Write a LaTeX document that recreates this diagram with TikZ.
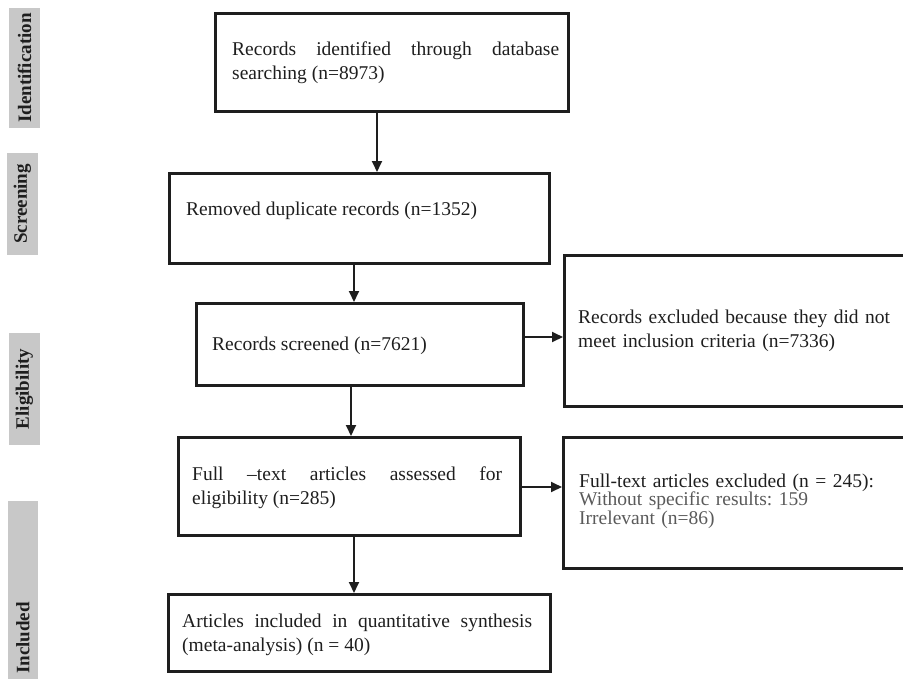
\documentclass[tikz,border=0pt]{standalone}
\usepackage{fontspec}
\setmainfont{Liberation Serif}
\usetikzlibrary{arrows.meta}
\definecolor{ink}{HTML}{1E1E1E}
\definecolor{labgray}{HTML}{C8C8C8}
\definecolor{subgray}{HTML}{5A5A5A}
\frenchspacing
\begin{document}
\begin{tikzpicture}[x=1pt,y=-1pt,
  box/.style={draw=ink, line width=2.8pt, rectangle, inner sep=0pt, anchor=north west},
  txt/.style={inner sep=0pt, text=ink, font=\fontsize{19.5}{24}\selectfont, anchor=base west},
  arr/.style={draw=ink, line width=1.8pt, -{Triangle[length=11pt,width=10pt]}},
  lab/.style={fill=labgray, rotate=90, text=ink, font=\bfseries\fontsize{19}{23}\selectfont, inner sep=0pt}]
\useasboundingbox (0,0) rectangle (903,678);

% side labels
\node[lab, minimum width=120pt, minimum height=31pt] (l1) at (24.5,68) {Identification};
\node[lab, minimum width=102pt, minimum height=31pt] (l2) at (22.5,204) {Screening};
\node[lab, minimum width=112pt, minimum height=31pt] (l3) at (24.5,389) {Eligibility};
\node[lab, minimum width=274pt, minimum height=30pt] (l4) at (23,638) {Included};

% boxes
\node[box, minimum width=353pt, minimum height=98pt] (b1) at (214,12) {};
\node[box, minimum width=380pt, minimum height=90pt] (b2) at (168,172) {};
\node[box, minimum width=327pt, minimum height=82pt] (b3) at (195,302) {};
\node[box, minimum width=342pt, minimum height=98pt] (b4) at (177,436) {};
\node[box, minimum width=382pt, minimum height=77pt] (b5) at (167,593) {};
\node[box, minimum width=350pt, minimum height=151pt] (e1) at (563,254) {};
\node[box, minimum width=350pt, minimum height=131pt] (e2) at (562,436) {};

% texts
\node[txt, text width=327pt, align=justify] (t1) at (232,55)
  {Records identified through database\linebreak searching (n=8973)};
\node[txt] (t2) at (186,215) {Removed duplicate records (n=1352)};
\node[txt] (t3) at (212,350) {Records screened (n=7621)};
\node[txt, text width=310pt, align=justify] (t4) at (192,480)
  {Full –text articles assessed for\linebreak eligibility (n=285)};
\node[txt, text width=350pt, align=justify] (t5) at (182,627)
  {Articles included in quantitative synthesis\linebreak (meta-analysis) (n = 40)};
\node[txt, text width=315pt, align=left] (t6) at (578,323)
  {Records excluded because they did not\\meet inclusion criteria (n=7336)};
\node[txt, text width=315pt, align=left, font=\fontsize{19.5}{17.5}\selectfont] (t7) at (579,487)
  {Full-text articles excluded (n = 245):\\\textcolor{subgray}{Without specific results: 159}\\\textcolor{subgray}{Irrelevant (n=86)}};

% connectors
\coordinate (x1) at (377,0);
\coordinate (x2) at (354,0);
\coordinate (x3) at (351,0);
\coordinate (x4) at (354,0);
\coordinate (y5) at (0,337);
\coordinate (y6) at (0,487);
\draw[arr] (b1.south -| x1) -- (b2.north -| x1);
\draw[arr] (b2.south -| x2) -- (b3.north -| x2);
\draw[arr] (b3.south -| x3) -- (b4.north -| x3);
\draw[arr] (b4.south -| x4) -- (b5.north -| x4);
\draw[arr] (b3.east |- y5) -- (e1.west |- y5);
\draw[arr] (b4.east |- y6) -- (e2.west |- y6);
\end{tikzpicture}
\end{document}
